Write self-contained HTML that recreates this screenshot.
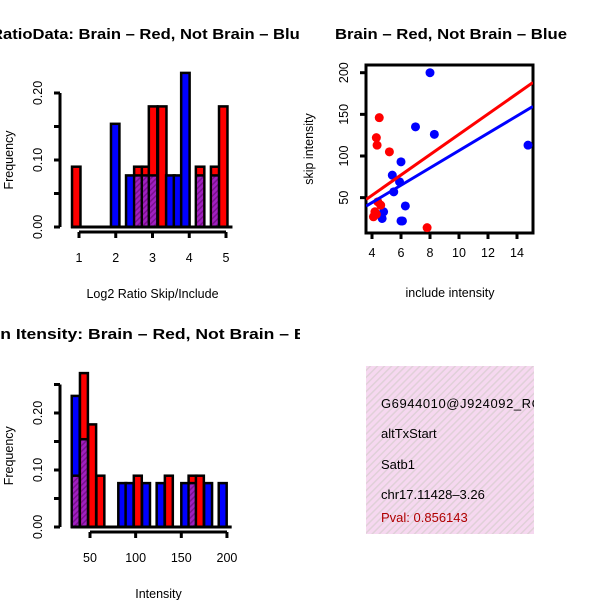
<!DOCTYPE html>
<html><head><meta charset="utf-8"><style>
html,body{margin:0;padding:0;background:#fff;}
svg{display:block;font-family:"Liberation Sans",sans-serif;}
</style></head><body>
<svg id="chart" width="600" height="600" viewBox="0 0 600 600" xmlns="http://www.w3.org/2000/svg">
<defs>
<pattern id="hatch" width="4" height="4" patternUnits="userSpaceOnUse" patternTransform="rotate(45)">
<rect width="4" height="4" fill="#a020c0"/><rect width="1.5" height="4" fill="#7a1090"/></pattern>
<pattern id="pinkhatch" width="5" height="5" patternUnits="userSpaceOnUse" patternTransform="rotate(45)">
<rect width="5" height="5" fill="#f6d8f0"/><rect width="1.5" height="5" fill="#e0d0d8"/></pattern>
<clipPath id="leftclip"><rect x="0" y="0" width="300" height="600"/></clipPath>
<clipPath id="boxclip"><rect x="366" y="366" width="168" height="168"/></clipPath>
</defs>
<g id="g1" clip-path="url(#leftclip)"></g>
<g id="g2"></g>
<g id="g3" clip-path="url(#leftclip)"></g>
<g id="g4" clip-path="url(#boxclip)">
<rect x="366" y="366" width="168" height="168" fill="url(#pinkhatch)"/>
<text x="381" y="408" font-size="13" textLength="160">G6944010@J924092_RC</text>
<text x="381" y="438" font-size="13">altTxStart</text>
<text x="381" y="469" font-size="13">Satb1</text>
<text x="381" y="499" font-size="13">chr17.11428–3.26</text>
<text x="381" y="522" font-size="13" fill="#b00000">Pval: 0.856143</text>
</g>
</svg>
<script>
// ---- Histogram 1 data ----
const h1Bins = [0.81,1.87,2.28,2.50,2.71,2.90,3.15,3.37,3.58,3.78,4.18,4.59,4.81];
const h1Red  = [0.09,0,0,0.09,0.09,0.18,0.18,0,0,0,0.09,0.09,0.18];
const h1Blue = [0,0.154,0.077,0.077,0.077,0.077,0,0.077,0.077,0.23,0.077,0.077,0];
const h1XTicks = [1,2,3,4,5];
const h1YTicks = ["0.00","0.10","0.20"];
// ---- Histogram 2 data ----
const h2Bins = [30,39,48,57,81,89,98,107,123,132,150,158,166,175,191];
const h2Red  = [0.09,0.27,0.18,0.09,0,0,0.09,0,0,0.09,0,0.09,0.09,0,0];
const h2Blue = [0.23,0.154,0,0,0.077,0.077,0,0.077,0.077,0,0.077,0.077,0,0.077,0.077];
const h2XTicks = [50,100,150,200];
const h2YTicks = ["0.00","0.10","0.20"];
// ---- Scatter data ----
const blueX = [8,7.0,8.3,14.76,6,5.4,5.9,5.5,6.3,4.8,4.7,6.0,6.1];
const blueY = [200,135,126,113,93,77,69,57,40,33,25,22,22];
const redX = [4.5,4.3,4.35,5.2,4.4,4.6,4.2,4.1,4.3,7.8];
const redY = [146,122,113,105,45,41,33,27,30,14];
const fitNames = ["red","blue"];
const fitIntercept = [4,2.5];
const fitSlope = [12.2,10.4];
const scXTicks = [4,6,8,10,12,14];
const scYTicks = [50,100,150,200];

const NS="http://www.w3.org/2000/svg";
function mk(parent,tag,attrs){const e=document.createElementNS(NS,tag);for(const k in attrs)e.setAttribute(k,attrs[k]);parent.appendChild(e);return e;}
function txt(parent,x,y,s,attrs){const e=mk(parent,"text",Object.assign({x:x,y:y},attrs||{}));e.textContent=s;return e;}

function hist(g,bins,red,blue,bw,xs,ys,xTicks,yTicks,axX0,axX1,yAxX,yAx0,yAx1,title,xlab,tx,ty,tlen){
  const t=txt(g,tx,ty,title,{"font-size":"15","font-weight":"bold","text-anchor":"middle",textLength:tlen,lengthAdjust:"spacingAndGlyphs"});
  
  for(let i=0;i<bins.length;i++){
    const x0=xs(bins[i]),x1=xs(bins[i]+bw),w=x1-x0;
    const r=red[i],b=blue[i],ov=Math.min(r,b);
    const hi=r>=b?{v:r,c:"#ff0000"}:{v:b,c:"#0000ff"};
    if(hi.v<=0)continue;
    const rc=mk(g,"rect",{x:x0,y:ys(hi.v),width:w,height:ys(0)-ys(hi.v),fill:hi.c,stroke:"#000","stroke-width":2.5});
    
    
    if(ov>0){
      const p=mk(g,"rect",{x:x0+1.2,y:ys(ov),width:w-2.4,height:ys(0)-ys(ov)-1.2,fill:"url(#hatch)"});
      
      
      mk(g,"line",{x1:x0,x2:x1,y1:ys(ov),y2:ys(ov),stroke:"#000","stroke-width":2.5});
    }
  }
  mk(g,"line",{x1:xs(bins[0])-1,x2:xs(bins[bins.length-1]+bw)+5,y1:ys(0),y2:ys(0),stroke:"#000","stroke-width":3});
  const ay=ys(0)+5;
  const xa=mk(g,"g",{});
  mk(xa,"line",{x1:axX0,x2:axX1,y1:ay,y2:ay,stroke:"#000","stroke-width":3});
  xTicks.forEach(t=>{mk(xa,"line",{x1:xs(t),x2:xs(t),y1:ay,y2:ay+6,stroke:"#000","stroke-width":3});
    txt(xa,xs(t),ay+30,String(t),{"font-size":"12.5","text-anchor":"middle"});});
  txt(g,(axX0+axX1)/2,ay+66,xlab,{"font-size":"12.5","text-anchor":"middle"});
  const ya=mk(g,"g",{});
  mk(ya,"line",{x1:yAxX,x2:yAxX,y1:ys(yAx0),y2:ys(yAx1),stroke:"#000","stroke-width":3});
  for(let v=yAx0;v<=yAx1+1e-9;v+=0.05){mk(ya,"line",{x1:yAxX-6,x2:yAxX,y1:ys(v),y2:ys(v),stroke:"#000","stroke-width":3});}
  yTicks.forEach(t=>{const v=parseFloat(t);txt(ya,yAxX-18,ys(v),t,{"font-size":"12.5","text-anchor":"middle",transform:`rotate(-90 ${yAxX-18} ${ys(v)})`});});
  const yl=txt(g,13,(ys(yAx0)+ys(yAx1))/2,"Frequency",{"font-size":"12.5","text-anchor":"middle",transform:`rotate(-90 13 ${(ys(yAx0)+ys(yAx1))/2})`});
  
}

const g1=document.getElementById("g1");
hist(g1,h1Bins,h1Red,h1Blue,0.23,v=>79+(v-1)*36.75,v=>227-v*670,h1XTicks,h1YTicks,79,226,60,0,0.2,
 "RatioData: Brain – Red, Not Brain – Blue","Log2 Ratio Skip/Include",150,39,318);
const g3=document.getElementById("g3");
hist(g3,h2Bins,h2Red,h2Blue,8.7,v=>90+(v-50)*0.913,v=>527-v*570,h2XTicks,h2YTicks,90,227,60,0,0.25,
 "Exon Itensity: Brain – Red, Not Brain – Blue","Intensity",150,339,364);

const g2=document.getElementById("g2");
const sx=v=>372+(v-4)*14.5, sy=v=>156-(v-100)*0.833;
txt(g2,451,39,"Brain – Red, Not Brain – Blue",{"font-size":"15","font-weight":"bold","text-anchor":"middle",textLength:232,lengthAdjust:"spacingAndGlyphs"});
const frame=mk(g2,"rect",{x:366,y:65,width:167,height:168,fill:"none",stroke:"#000","stroke-width":3});

blueX.forEach((x,i)=>{const c=mk(g2,"circle",{cx:sx(x),cy:sy(blueY[i]),r:4.5,fill:"#0000ff"});
 
 });
redX.forEach((x,i)=>{const c=mk(g2,"circle",{cx:sx(x),cy:sy(redY[i]),r:4.5,fill:"#ff0000"});
 
 });
const cp=mk(g2,"clipPath",{id:"scclip"});mk(cp,"rect",{x:366,y:65,width:167,height:168});
fitNames.forEach((n,i)=>{const xa=3.6,xb=15.1;
 const l=mk(g2,"line",{x1:sx(xa),x2:sx(xb),y1:sy(fitIntercept[i]+fitSlope[i]*xa),y2:sy(fitIntercept[i]+fitSlope[i]*xb),stroke:n==="red"?"#ff0000":"#0000ff","stroke-width":3,"clip-path":"url(#scclip)"});
 
 });
const sxa=mk(g2,"g",{});
scXTicks.forEach(t=>{mk(sxa,"line",{x1:sx(t),x2:sx(t),y1:233,y2:239,stroke:"#000","stroke-width":3});
 txt(sxa,sx(t),257,String(t),{"font-size":"12.5","text-anchor":"middle"});});
txt(g2,450,297,"include intensity",{"font-size":"12.5","text-anchor":"middle"});
const sya=mk(g2,"g",{});
scYTicks.forEach(t=>{mk(sya,"line",{x1:360,x2:366,y1:sy(t),y2:sy(t),stroke:"#000","stroke-width":3});
 txt(sya,348,sy(t),String(t),{"font-size":"12.5","text-anchor":"middle",transform:`rotate(-90 348 ${sy(t)})`});});
txt(g2,313,149,"skip intensity",{"font-size":"12.5","text-anchor":"middle",transform:"rotate(-90 313 149)"});
</script>
</body></html>
